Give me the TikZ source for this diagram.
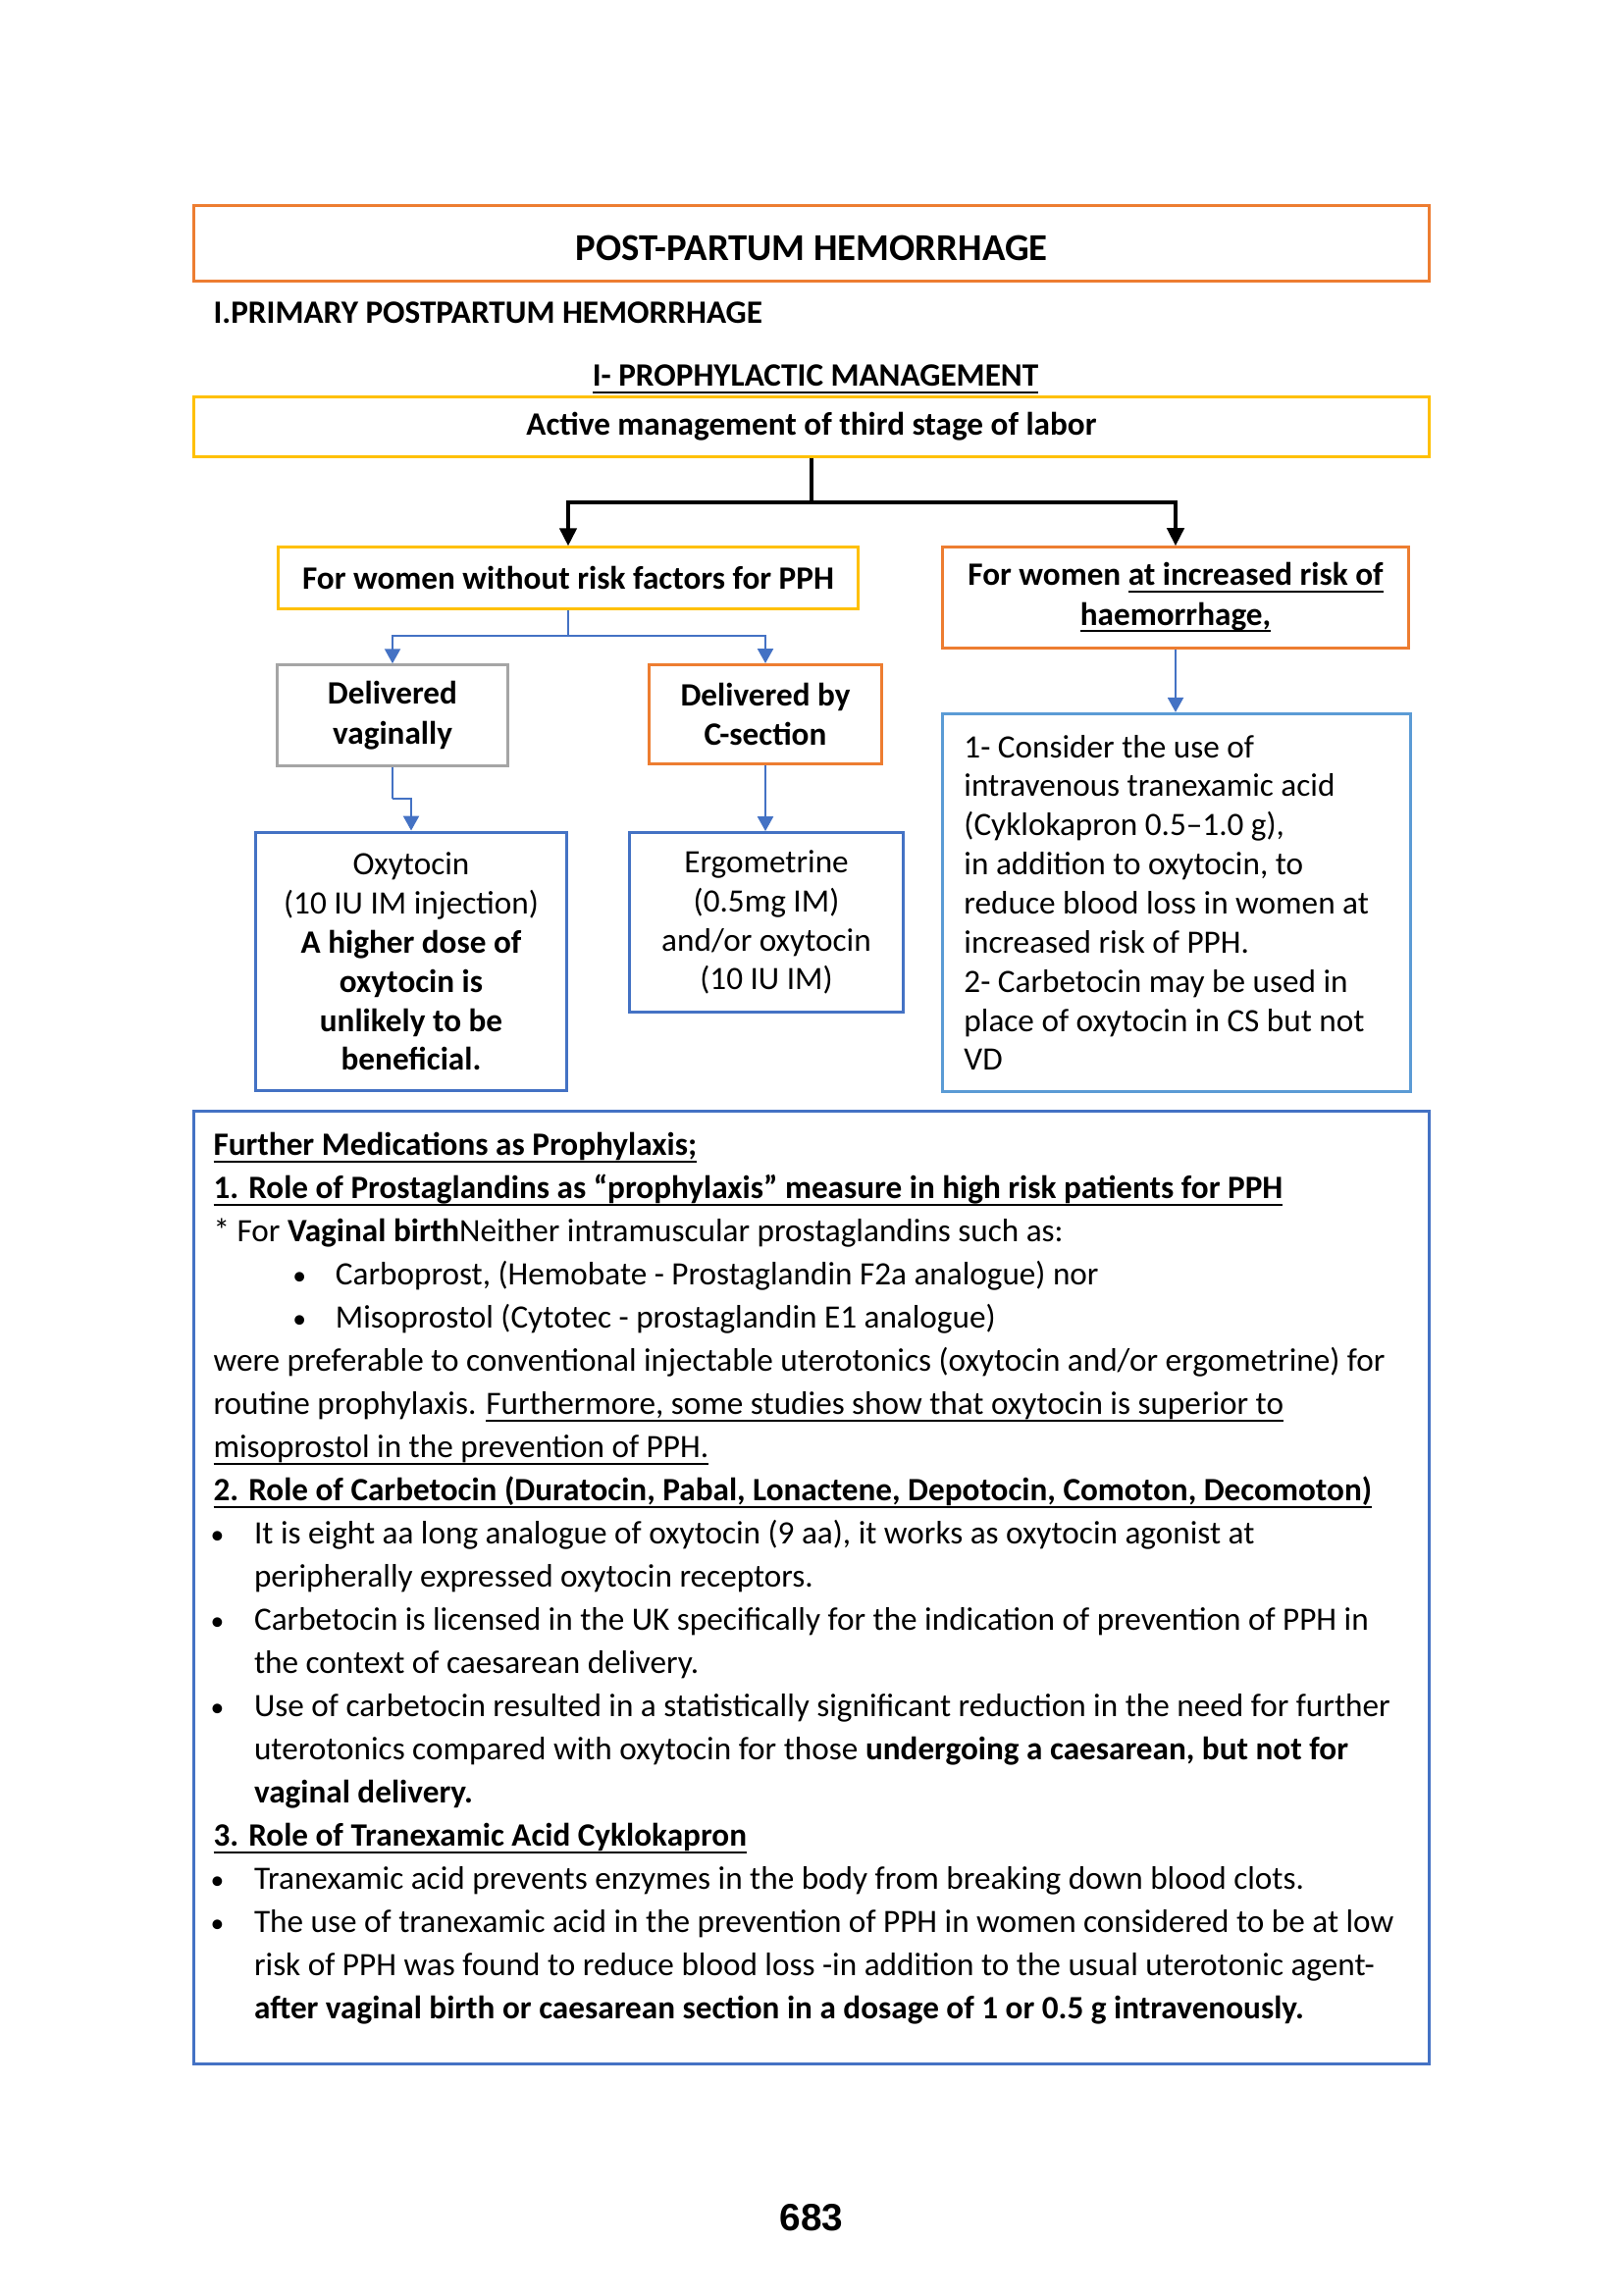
\documentclass[tikz,border=0pt]{standalone}
\usepackage{fontspec}
\setmainfont{Carlito}
\newfontfamily\pagenofont{Liberation Sans}
\usetikzlibrary{arrows.meta}

\definecolor{pphorange}{HTML}{ED7D31}
\definecolor{pphyellow}{HTML}{FFC000}
\definecolor{pphblue}{HTML}{4472C4}
\definecolor{pphlightblue}{HTML}{5B9BD5}
\definecolor{pphgray}{HTML}{A5A5A5}

% underline at a fixed depth
\newsavebox{\ulbox}
\newcommand{\uln}[1]{\sbox{\ulbox}{#1}\rlap{\rule[-2.5pt]{\wd\ulbox}{0.75pt}}\usebox{\ulbox}}
% bullets for the bottom box
\newcommand{\dotglyph}{{\fontsize{10}{10}\selectfont •}}
\newcommand{\bul}{\hspace*{0.5mm}\makebox[0pt]{\dotglyph}\hspace*{4.77mm}}
\newcommand{\ind}{\hspace*{5.27mm}}
\newcommand{\subbul}{\hspace*{11.14mm}\makebox[0pt]{\dotglyph}\hspace*{4.66mm}}

\begin{document}
\begin{tikzpicture}[x=0.127mm,y=-0.127mm,
    box/.style={draw,line width=1.1pt,align=center,inner sep=0pt,
      font=\fontsize{12}{14.4}\selectfont},
    orangebox/.style={box,draw=pphorange},
    yellowbox/.style={box,draw=pphyellow},
    graybox/.style={box,draw=pphgray},
    bluebox/.style={box,draw=pphblue},
    lightbluebox/.style={box,draw=pphlightblue},
    blackarrow/.style={line width=1.3pt,-{Triangle[length=2.3mm,width=2.2mm]}},
    bluearrow/.style={draw=pphblue,line width=1pt,
      -{Triangle[length=1.9mm,width=2.0mm,fill=pphblue]}}]
    \useasboundingbox (0,0) rectangle (1654,2339);

    % Headings %
    \node[orangebox,minimum width=16.0cm,minimum height=0.98cm,text height=12.6pt,text depth=0pt,
      font=\fontsize{14}{17}\selectfont\bfseries] (title) at (827,248) {POST-PARTUM HEMORRHAGE};
    \node[anchor=base west,inner sep=0pt,font=\fontsize{12}{14}\selectfont\bfseries]
      (primary) at (217,330) {I.PRIMARY POSTPARTUM HEMORRHAGE};
    \node[anchor=base,inner sep=0pt,font=\fontsize{12}{14}\selectfont\bfseries]
      (prophylactic) at (831,394) {\uln{I- PROPHYLACTIC MANAGEMENT}};

    % Flow chart %
    \node[yellowbox,minimum width=16.0cm,minimum height=0.77cm,font=\fontsize{12}{14}\selectfont\bfseries]
      (active) at (827,435) {Active management of third stage of labor};
    \node[yellowbox,minimum width=7.51cm,minimum height=0.79cm,font=\fontsize{12}{14}\selectfont\bfseries]
      (norisk) at (579,589) {For women without risk factors for PPH};
    \node[orangebox,minimum width=6.03cm,minimum height=1.30cm,font=\fontsize{12}{14.6}\selectfont\bfseries]
      (highrisk) at (1198,609) {For women \uln{at increased risk of}\\\uln{haemorrhage,}};
    \node[graybox,minimum width=2.99cm,minimum height=1.30cm,font=\fontsize{12}{14.6}\selectfont\bfseries]
      (vaginal) at (400,729) {Delivered\\vaginally};
    \node[orangebox,minimum width=3.0cm,minimum height=1.28cm,font=\fontsize{12}{14.6}\selectfont\bfseries]
      (csection) at (780,728) {Delivered by\\C-section};
    \node[bluebox,minimum width=4.03cm,minimum height=3.35cm] (oxytocin) at (419,980)
      {Oxytocin\\(10 IU IM injection)\\\textbf{A higher dose of}\\\textbf{oxytocin is}\\
       \textbf{unlikely to be}\\\textbf{beneficial.}};
    \node[bluebox,minimum width=3.54cm,minimum height=2.32cm] (ergometrine) at (781,940)
      {Ergometrine\\(0.5mg IM)\\and/or oxytocin\\(10 IU IM)};
    \node[lightbluebox,align=flush left,text width=5.5cm,inner xsep=2.74mm,minimum height=4.89cm]
      (tranexamic) at (1199,920)
      {1- Consider the use of\\intravenous tranexamic acid\\(Cyklokapron 0.5–1.0 g),\\
       in addition to oxytocin, to\\reduce blood loss in women at\\increased risk of PPH.\\
       2- Carbetocin may be used in\\place of oxytocin in CS but not\\VD};

    \coordinate (split) at (827,512);
    \coordinate (bluesplit) at (579,648);
    \coordinate (vagjog) at (400,814);
    \draw[line width=1.3pt] (active) -- (split);
    \draw[blackarrow] (split) -| (norisk);
    \draw[blackarrow] (split) -| (highrisk);
    \draw[draw=pphblue,line width=1pt] (norisk) -- (bluesplit);
    \draw[bluearrow] (bluesplit) -| (vaginal);
    \draw[bluearrow] (bluesplit) -| (csection);
    \draw[draw=pphblue,line width=1pt] (vaginal) -- (vagjog);
    \draw[bluearrow] (vagjog) -| (oxytocin);
    \draw[bluearrow] (csection) -- (csection |- ergometrine.north);
    \draw[bluearrow] (highrisk) -- (highrisk |- tranexamic.north);

    % Further medications %
    \node[bluebox,minimum width=16.0cm,minimum height=12.32cm] (further) at (827,1618) {};
    \node[anchor=north west,inner sep=0pt,align=left,font=\fontsize{12}{15.9}\selectfont]
      (furthertext) at (217,1154) {%
      \uln{\textbf{Further Medications as Prophylaxis;}}\\
      \uln{\textbf{1. Role of Prostaglandins as “prophylaxis” measure in high risk patients for PPH}}\\
      * For \textbf{Vaginal birth}Neither intramuscular prostaglandins such as:\\
      \subbul Carboprost, (Hemobate - Prostaglandin F2a analogue) nor\\
      \subbul Misoprostol (Cytotec - prostaglandin E1 analogue)\\
      were preferable to conventional injectable uterotonics (oxytocin and/or ergometrine) for\\
      routine prophylaxis. \uln{Furthermore, some studies show that oxytocin is superior to}\\
      \uln{misoprostol in the prevention of PPH.}\\
      \uln{\textbf{2. Role of Carbetocin (Duratocin, Pabal, Lonactene, Depotocin, Comoton, Decomoton)}}\\
      \bul It is eight aa long analogue of oxytocin (9 aa), it works as oxytocin agonist at\\
      \ind peripherally expressed oxytocin receptors.\\
      \bul Carbetocin is licensed in the UK specifically for the indication of prevention of PPH in\\
      \ind the context of caesarean delivery.\\
      \bul Use of carbetocin resulted in a statistically significant reduction in the need for further\\
      \ind uterotonics compared with oxytocin for those \textbf{undergoing a caesarean, but not for}\\
      \ind \textbf{vaginal delivery.}\\
      \uln{\textbf{3. Role of Tranexamic Acid Cyklokapron}}\\
      \bul Tranexamic acid prevents enzymes in the body from breaking down blood clots.\\
      \bul The use of tranexamic acid in the prevention of PPH in women considered to be at low\\
      \ind risk of PPH was found to reduce blood loss -in addition to the usual uterotonic agent-\\
      \ind \textbf{after vaginal birth or caesarean section in a dosage of 1 or 0.5 g intravenously.}};

    % Page number %
    \node[inner sep=0pt,font=\pagenofont\fontsize{14}{16}\selectfont\bfseries] (pageno) at (827,2260) {683};
\end{tikzpicture}
\end{document}
